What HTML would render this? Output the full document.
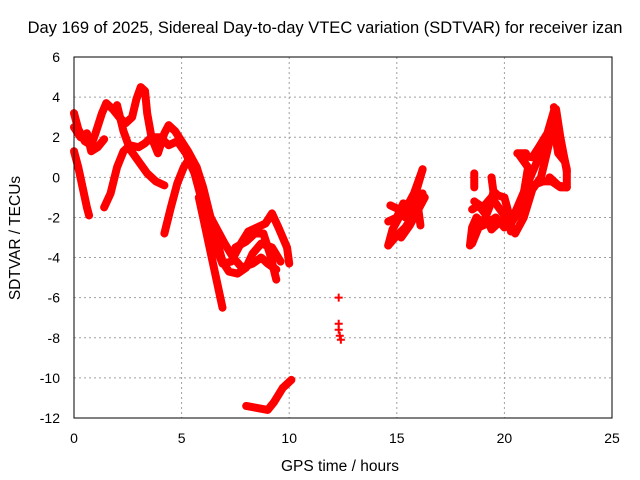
<!DOCTYPE html>
<html><head><meta charset="utf-8"><style>
body{margin:0;background:#fff;}
svg{display:block;font-family:"Liberation Sans",sans-serif;}
</style></head><body>
<svg id="chart" width="640" height="480">
<rect width="640" height="480" fill="#fff"/>
<text x="325" y="33" font-size="16.5" text-anchor="middle">Day 169 of 2025, Sidereal Day-to-day VTEC variation (SDTVAR) for receiver izan</text>
<text x="340" y="471" font-size="15.5" text-anchor="middle">GPS time / hours</text>
<text x="20" y="238" font-size="15.5" text-anchor="middle" transform="rotate(-90 20 238)">SDTVAR / TECUs</text>
<g id="grid"></g><g id="ticks"></g><g id="marks"></g>
<rect x="74" y="57" width="538" height="361" fill="none" stroke="#000" stroke-width="1"/>
</svg>
<script>
const xTicks=[0,5,10,15,20,25];
const yTicks=[6,4,2,0,-2,-4,-6,-8,-10,-12];
const track1=[[0,1.3],[0.2,0.5],[0.4,-0.5],[0.6,-1.5],[0.7,-1.9]];
const track2=[[0,3.2],[0.2,2.4],[0.5,1.8],[0.8,1.6],[1.0,2.2],[1.3,3.2],[1.5,3.7],[1.8,3.4],[2.1,3.0],[2.4,2.7],[2.7,3.0],[2.9,3.9],[3.1,4.5],[3.3,4.3],[3.4,3.2],[3.6,2.0],[3.9,1.2],[4.2,2.2],[4.4,2.6],[4.7,2.3],[5.0,1.8],[5.3,1.3],[5.7,0.5],[6.0,-0.5],[6.3,-1.8],[6.6,-3],[6.9,-4.2],[7.2,-4.7],[7.6,-4.8],[8,-4.5],[8.3,-3.8],[8.7,-3.3],[9.2,-3.5],[9.6,-4.2]];
const track3=[[0,2.5],[0.3,2.0],[0.6,2.2],[0.8,1.3],[1.1,1.5],[1.4,1.9]];
const track4=[[1.4,-1.5],[1.7,-0.8],[2.0,0.5],[2.3,1.3],[2.6,1.6],[3,1.5],[3.3,1.7],[3.6,2.0],[4,2.0],[4.4,1.6],[4.8,1.8],[5.2,1.2],[5.6,0.2],[5.9,-1.0],[6.2,-2.3],[6.6,-3.5],[6.9,-4.3],[7.3,-4.2],[7.7,-3.4],[8.1,-2.7],[8.5,-2.5],[8.9,-2.3],[9.2,-1.8],[9.5,-2.5],[9.9,-3.5],[10,-4.3]];
const track5=[[2.0,3.6],[2.3,2.3],[2.6,1.4],[3.0,0.8],[3.4,0.2],[3.8,-0.2],[4.2,-0.4]];
const track6=[[4.2,-2.8],[4.5,-1.5],[4.8,-0.3],[5.1,0.5],[5.4,1.0],[5.7,0.5],[6.0,-0.8],[6.3,-1.9],[6.6,-2.5],[7.0,-3.3],[7.4,-4.0],[7.8,-4.5],[8.3,-4.3],[8.7,-4.0],[9.0,-4.3],[9.4,-4.6]];
const track7=[[5.8,-1.0],[6.1,-2.5],[6.4,-4],[6.7,-5.5],[6.9,-6.5]];
const track8=[[7.5,-3.5],[8,-3.2],[8.4,-2.8],[8.8,-2.8],[9.1,-3.8],[9.4,-5.1]];
const track9=[[8,-11.4],[8.5,-11.5],[9,-11.6],[9.3,-11.2],[9.7,-10.5],[10.1,-10.1]];
const track10=[[14.6,-3.4],[15.0,-2.9],[15.4,-2.5],[15.8,-1.8],[16.2,-0.8]];
const track11=[[14.6,-2.2],[15.0,-2.0],[15.3,-1.3],[15.6,-1.5],[15.9,-0.7],[16.2,0.4]];
const track12=[[15.2,-3.0],[15.6,-2.4],[16,-1.6],[16.3,-1.0]];
const track13=[[18.5,-3.3],[18.8,-2.5],[19.2,-2.3],[19.6,-2.0],[20,-2.5],[20.4,-2.0],[20.8,-1.0],[21.2,0],[21.6,1.0],[22,1.5],[22.3,2.5],[22.5,1.2],[22.8,0.8]];
const track14=[[18.6,-1.2],[19,-1.5],[19.4,-1.0],[19.8,-1.6],[20.2,-2.2],[20.5,-2.8],[20.9,-2.0],[21.3,-0.6],[21.7,0],[22.1,1.8],[22.4,3.4],[22.6,2.0],[22.9,0.3]];
const track15=[[21.3,-0.4],[21.8,-0.2],[22.2,-0.2],[22.6,-0.5],[22.9,-0.5]];
const track16=[[18.6,0.2],[18.6,-0.5]];
const track17=[[19.4,0.0],[19.5,-0.8]];
const track18=[[20.6,1.2],[21.0,1.2]];
const track19=[[18.4,-3.4],[18.5,-2.5],[18.7,-2.0],[19.0,-2.3],[19.3,-1.5],[19.5,-0.7],[19.7,-0.9],[20.0,-1.0],[20.2,-1.8],[20.3,-2.7]];
const track20=[[18.5,-1.6],[18.8,-1.4],[19.1,-1.8],[19.4,-2.6],[19.8,-2.2],[20.3,-2.3],[20.6,-1.8],[20.9,-0.8],[21.1,0.5],[20.7,1.1],[21.3,1.0],[21.6,1.5],[22.0,2.2],[22.3,3.3]];
const track21=[[14.6,-3.4],[14.8,-2.6],[15.0,-2.2],[15.3,-1.6],[15.6,-1.2],[15.8,-0.8],[16.0,-0.2],[16.2,0.4]];
const track22=[[14.7,-1.4],[15.1,-1.6],[15.4,-2.0],[15.8,-1.3],[16.0,-1.6],[16.1,-2.4]];
const track23=[[22.1,0.0],[22.5,-0.4],[22.9,-0.5],[22.9,0.4],[22.6,1.8],[22.3,3.5]];
const isolated=[[12.3,-6.0],[12.3,-7.3],[12.3,-7.6],[12.35,-7.9],[12.4,-8.1]];
const tracks=[track1,track2,track3,track4,track5,track6,track7,track8,track9,track10,track11,track12,track13,track14,track15,track16,track17,track18,track19,track20,track21,track22,track23];

const X=v=>74+v*(538/25);
const Y=v=>57+(6-v)*(361/18);
const NS="http://www.w3.org/2000/svg";
function mk(tag,attrs,parent){const e=document.createElementNS(NS,tag);for(const k in attrs)e.setAttribute(k,attrs[k]);parent.appendChild(e);return e;}
const grid=document.getElementById('grid'),ticks=document.getElementById('ticks'),marks=document.getElementById('marks');
xTicks.forEach(t=>{
  const g=mk('line',{x1:X(t),x2:X(t),y1:57,y2:418,stroke:'#a0a0a0','stroke-dasharray':'2,3'},grid);
  
  
  const l=mk('text',{x:X(t),y:443,'font-size':14,'text-anchor':'middle'},ticks);
  l.textContent=t;
  
  
});
yTicks.forEach(t=>{
  const g=mk('line',{x1:74,x2:612,y1:Y(t),y2:Y(t),stroke:'#a0a0a0','stroke-dasharray':'2,3'},grid);
  
  
  const l=mk('text',{x:60,y:Y(t)+5,'font-size':14,'text-anchor':'end'},ticks);
  l.textContent=t;
  
  
});
tracks.forEach(tr=>{
  const p=mk('polyline',{points:tr.map(d=>X(d[0])+','+Y(d[1])).join(' '),fill:'none',stroke:'#ff0000','stroke-width':8,'stroke-linejoin':'round','stroke-linecap':'round'},marks);
  
  
});
isolated.forEach(d=>{
  const p=mk('path',{d:`M${X(d[0])-4},${Y(d[1])}h8M${X(d[0])},${Y(d[1])-4}v8`,stroke:'#ff0000','stroke-width':2},marks);
  
  
});
</script>
</body></html>
